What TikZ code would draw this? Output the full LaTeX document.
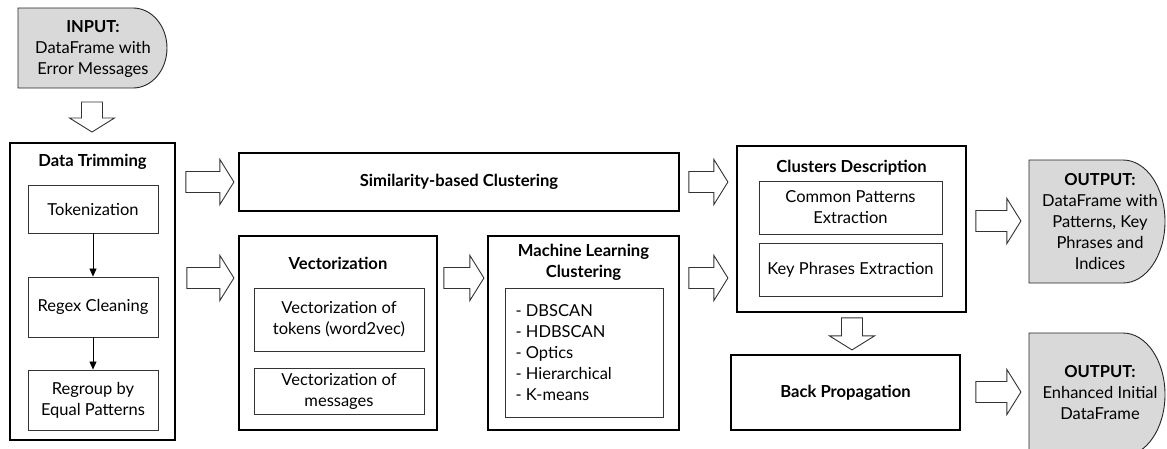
\documentclass[tikz,border=0pt]{standalone}
\usepackage{fontspec}
\setmainfont{Lato}
\usetikzlibrary{calc,arrows.meta}
\tikzset{
  x=1pt, y=-1pt,
  every node/.style={font=\fontsize{16.5}{21}\selectfont, align=center},
  outerbox/.style={draw=black, line width=1.8pt, inner sep=0pt},
  innerbox/.style={draw=black!80, line width=0.9pt, inner sep=0pt},
  title/.style={font=\fontsize{16.6}{21}\selectfont\bfseries},
  ioshape/.style={draw=black!85, line width=0.9pt, fill=black!15},
  blkline/.style={draw=black!80, line width=0.9pt, fill=white, line join=miter},
  flow/.style={-{Triangle[length=8pt,width=7pt]}, line width=0.8pt},
  pics/blk/.style={code={
    \draw[blkline] (0,-10.5) -- ({#1-14},-10.5) -- ({#1-14},-22.5) -- (#1,0)
      -- ({#1-14},22.5) -- ({#1-14},10.5) -- (0,10.5) -- cycle;}}
}
\begin{document}
\begin{tikzpicture}
\clip (0,0) rectangle (1167,448);
\fill[white] (0,0) rectangle (1167,448);

% input terminal
\draw[ioshape] (18,8) -- (133,8) arc[start angle=-90,end angle=90,x radius=34,y radius=40] -- (18,88) -- cycle;
\node (in) at (93,49) {\textbf{INPUT:}\\DataFrame with\\Error Messages};

% data trimming
\node[outerbox, minimum width=165, minimum height=297] (dt) at (92.5,291.5) {};
\node[title] (dtt) at (92.5,162) {Data Trimming};
\node[innerbox, minimum width=130, minimum height=48] (tok) at (93,209) {Tokenization};
\node[innerbox, minimum width=130, minimum height=60] (rgx) at (93,307) {Regex Cleaning};
\node[innerbox, minimum width=130, minimum height=60] (rgp) at (93,400) {Regroup by\\Equal Patterns};
\draw[flow] (tok) -- (rgx);
\draw[flow] (rgx) -- (rgp);

% similarity-based clustering
\node[outerbox, minimum width=440, minimum height=58, title] (sim) at (459,182) {Similarity-based Clustering};

% vectorization
\node[outerbox, minimum width=198, minimum height=194] (vec) at (338,333) {};
\node[title] (vect) at (338,263) {Vectorization};
\node[innerbox, minimum width=170, minimum height=63] (v1) at (339,319.5) {Vectorization of\\tokens (word2vec)};
\node[innerbox, minimum width=170, minimum height=46] (v2) at (339,391) {Vectorization of\\messages};

% machine learning clustering
\node[outerbox, minimum width=191, minimum height=194] (ml) at (583.5,333) {};
\node[title] (mlt) at (583.5,262.5) {Machine Learning\\Clustering};
\node[innerbox, minimum width=158, minimum height=129] (mli) at (584,352.5) {};
\node[anchor=west, align=left] (mll) at (512,352.5) {- DBSCAN\\- HDBSCAN\\- Optics\\- Hierarchical\\- K-means};

% clusters description
\node[outerbox, minimum width=229, minimum height=166] (cd) at (851.5,229) {};
\node[title] (cdt) at (851.5,168) {Clusters Description};
\node[innerbox, minimum width=183, minimum height=53] (cp) at (850.5,207.5) {Common Patterns\\Extraction};
\node[innerbox, minimum width=183, minimum height=53] (kp) at (850.5,269.5) {Key Phrases Extraction};

% back propagation
\node[outerbox, minimum width=229, minimum height=75, title] (bp) at (845.5,392.5) {Back Propagation};

% output terminals
\draw[ioshape] (1029,160) -- (1123,160) arc[start angle=-90,end angle=90,x radius=42,y radius=61.5] -- (1029,283) -- cycle;
\node (out1) at (1100,221.5) {\textbf{OUTPUT:}\\DataFrame with\\Patterns, Key\\Phrases and\\Indices};
\draw[ioshape] (1029,333) -- (1123,333) arc[start angle=-90,end angle=90,x radius=42,y radius=61.5] -- (1029,456) -- cycle;
\node (out2) at (1100,393) {\textbf{OUTPUT:}\\Enhanced Initial\\DataFrame};

% block arrows
\pic[rotate=-90] at (92,102) {blk=30};
\pic at ($(dt.east |- sim)+(10,0)$) {blk=48};
\pic at ($(dt.east |- mli.west)+(11,-74.5)$) {blk=47};
\pic at ($(vec.east)+(6,-55)$) {blk=40};
\pic at ($(sim.east)+(9,0)$) {blk=39};
\pic at ($(ml.east)+(9,-55)$) {blk=39};
\pic at ($(cd.east)+(9,-8)$) {blk=45};
\pic[rotate=-90] at ($(cd.south)+(0.5,5)$) {blk=32};
\pic at ($(bp.east)+(15,-0.5)$) {blk=45};
\end{tikzpicture}
\end{document}
